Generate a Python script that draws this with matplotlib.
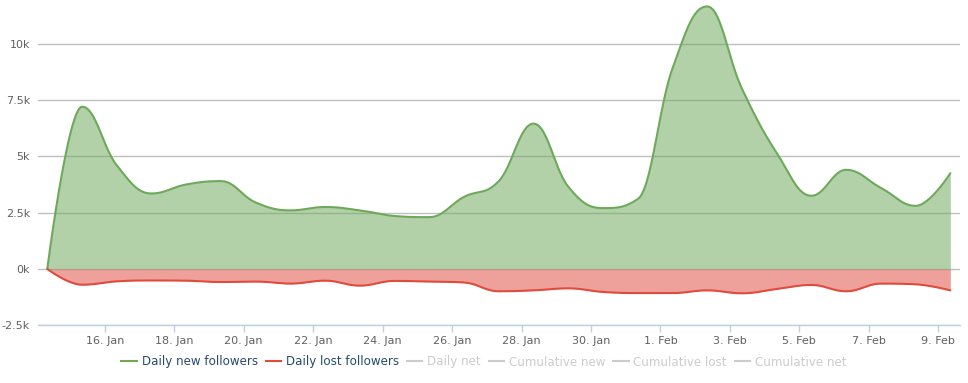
import numpy as np
import pandas as pd
import matplotlib
matplotlib.use('Agg')
import matplotlib.pyplot as plt
import matplotlib.dates as mdates
from matplotlib.lines import Line2D

# daily samples (taken ~08:00 each day)
start = pd.Timestamp('2015-01-14 08:20')
new_followers = [0, 7200, 4600, 3350, 3750, 3900, 2950, 2600, 2750, 2600, 2350, 2300,
                 3200, 3900, 6450, 3650, 2700, 3100, 8900, 11650, 8000, 5150, 3250,
                 4400, 3600, 2800, 4250]
lost_followers = [0, -700, -550, -510, -520, -580, -560, -650, -520, -740, -530, -560,
                  -600, -990, -950, -860, -1020, -1070, -1070, -950, -1080, -890, -710,
                  -990, -650, -680, -950]
dates = pd.date_range(start, periods=len(new_followers), freq='D')
tick_dates = pd.date_range('2015-01-16', '2015-02-09', freq='2D')
ytick_vals = [-2500, 0, 2500, 5000, 7500, 10000]
ytick_labels = ['-2.5k', '0k', '2.5k', '5k', '7.5k', '10k']
legend_labels = ['Daily new followers', 'Daily lost followers', 'Daily net',
                 'Cumulative new', 'Cumulative lost', 'Cumulative net']
legend_visible = [True, True, False, False, False, False]
legend_colors = ['#6da85b', '#e04b3e', '#cccccc', '#cccccc', '#cccccc', '#cccccc']


def spline(xs, ys, smoothing=1.5, n=30):
    # highcharts style spline smoothing
    xs = np.asarray(xs, float)
    ys = np.asarray(ys, float)
    m = len(xs)
    lx, ly = xs.copy(), ys.copy()
    rx, ry = xs.copy(), ys.copy()
    d = smoothing + 1
    for i in range(1, m - 1):
        px, py = xs[i], ys[i]
        ax_, ay_ = xs[i - 1], ys[i - 1]
        nx, ny = xs[i + 1], ys[i + 1]
        lcx = (smoothing * px + ax_) / d
        lcy = (smoothing * py + ay_) / d
        rcx = (smoothing * px + nx) / d
        rcy = (smoothing * py + ny) / d
        corr = (rcy - lcy) * (rcx - px) / (rcx - lcx) + py - rcy
        lcy += corr
        rcy += corr
        if lcy > ay_ and lcy > py:
            lcy = max(ay_, py)
            rcy = 2 * py - lcy
        elif lcy < ay_ and lcy < py:
            lcy = min(ay_, py)
            rcy = 2 * py - lcy
        if rcy > ny and rcy > py:
            rcy = max(ny, py)
            lcy = 2 * py - rcy
        elif rcy < ny and rcy < py:
            rcy = min(ny, py)
            lcy = 2 * py - rcy
        lx[i], ly[i], rx[i], ry[i] = lcx, lcy, rcx, rcy
    t = np.linspace(0, 1, n)[:, None]
    outx, outy = [xs[0]], [ys[0]]
    for i in range(1, m):
        p0 = np.array([xs[i - 1], ys[i - 1]])
        p1 = np.array([rx[i - 1], ry[i - 1]])
        p2 = np.array([lx[i], ly[i]])
        p3 = np.array([xs[i], ys[i]])
        b = ((1 - t) ** 3) * p0 + 3 * ((1 - t) ** 2) * t * p1 + 3 * (1 - t) * t ** 2 * p2 + t ** 3 * p3
        outx.extend(b[1:, 0])
        outy.extend(b[1:, 1])
    return np.array(outx), np.array(outy)


fig = plt.figure(figsize=(9.68, 3.83), dpi=100)
ax = fig.add_axes([38.3 / 968, 57.7 / 383, (960 - 38.3) / 968, 1 - 57.7 / 383])

xnum = mdates.date2num(dates)
sx, sy_new = spline(xnum, new_followers)
_, sy_lost = spline(xnum, lost_followers)

ax.fill_between(sx, 0, sy_new, color='#6da85b', alpha=0.52, lw=0, zorder=2)
ax.plot(sx, sy_new, color='#6da85b', lw=1.5, zorder=3, solid_capstyle='round')
ax.fill_between(sx, 0, sy_lost, color='#e04b3e', alpha=0.52, lw=0, zorder=2)
ax.plot(sx, sy_lost, color='#e04b3e', lw=1.5, zorder=3, solid_capstyle='round')

px_per_day = (938.3 - 104.7) / 24
x0 = mdates.date2num(tick_dates[0]) - (104.7 - 38.3) / px_per_day
x1 = mdates.date2num(tick_dates[0]) + (960 - 104.7) / px_per_day
ax.set_xlim(x0, x1)
ax.set_ylim(-2500, 2500 * 269.3 / 56.4)

ax.set_yticks(ytick_vals)
ax.set_yticklabels(ytick_labels)
ax.set_xticks(mdates.date2num(tick_dates))
ax.set_xticklabels([f"{d.day}. {d.strftime('%b')}" for d in tick_dates])

ax.grid(axis='y', color='#c0c0c0', lw=1, zorder=1)
ax.set_axisbelow(True)
for s in ['top', 'right', 'left']:
    ax.spines[s].set_visible(False)
ax.spines['bottom'].set_color('#c0d0e0')
ax.spines['bottom'].set_linewidth(1)
ax.tick_params(axis='y', length=0, pad=6, labelsize=8, labelcolor='#606060')
ax.tick_params(axis='x', length=5, width=1, color='#c0d0e0', pad=3, labelsize=8,
               labelcolor='#606060')

handles = [Line2D([], [], color=c, lw=1.5) for c in legend_colors]
leg = fig.legend(handles, legend_labels, loc='center', bbox_to_anchor=(484 / 968, 1 - 362 / 383),
                 ncol=6, frameon=False, fontsize=8.6, handlelength=1.3, handletextpad=0.4,
                 columnspacing=0.65, borderaxespad=0)
for txt, vis in zip(leg.get_texts(), legend_visible):
    txt.set_color('#274b6d' if vis else '#cccccc')

fig.savefig('out.png', dpi=100)
